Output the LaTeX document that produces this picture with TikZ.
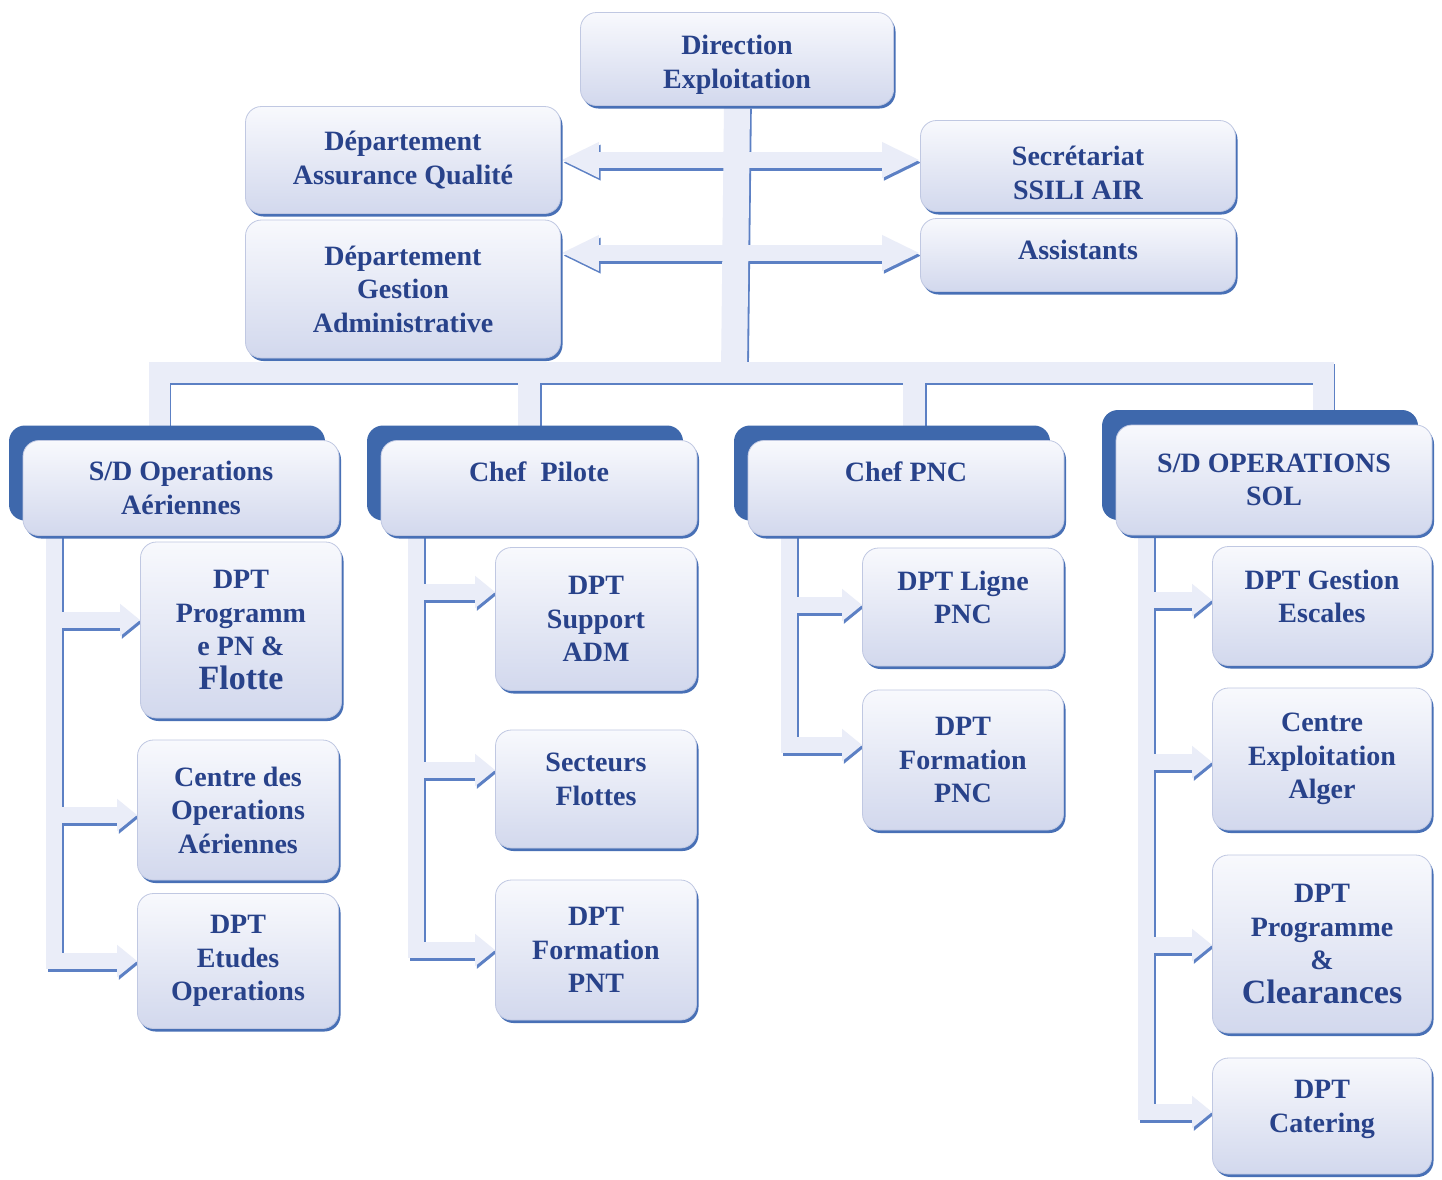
\documentclass[tikz,border=0pt]{standalone}
\usepackage{fontspec}
\setmainfont{Liberation Serif}
\usetikzlibrary{arrows.meta,shadows,backgrounds}

\definecolor{txt}{RGB}{40,66,138}
\definecolor{boxtop}{RGB}{248,249,253}
\definecolor{boxbot}{RGB}{210,216,237}
\definecolor{boxedge}{RGB}{192,200,226}
\definecolor{shad}{RGB}{72,112,182}
\definecolor{plate}{RGB}{62,104,172}
\definecolor{pipefill}{RGB}{234,237,248}
\definecolor{pipeedge}{RGB}{92,128,196}

\newcommand\allpipes[1]{%
  % trunk and side arrows
  \draw[#1, line width=26pt] (dirx.south) -- (trB);
  \draw[#1, line width=16pt, bigtip] (tr1) -- (daq.east);
  \draw[#1, line width=16pt, bigtip] (tr1) -- (sec.west |- tr1);
  \draw[#1, line width=16pt, bigtip] (tr2) -- (dga.east |- tr2);
  \draw[#1, line width=16pt, bigtip] (tr2) -- (ass.west |- tr2);
  % bus and drops
  \draw[#1, line width=21pt] (sdoa.north -| b1) -- (b1) -- (b4) -- (sdsol.north -| b4);
  \draw[#1, line width=22pt] (b2) -- (chp.north -| b2);
  \draw[#1, line width=22pt] (b3) -- (cpnc.north -| b3);
  % column 1
  \draw[#1, line width=16pt, smalltip] (c1) |- (d13.west);
  \draw[#1, line width=16pt, smalltip] (c1 |- 0,620) -- (d11.west |- 0,620);
  \draw[#1, line width=16pt, smalltip] (c1 |- 0,815) -- (d12.west |- 0,815);
  % column 2
  \draw[#1, line width=16pt, smalltip] (c2) |- (d23.west);
  \draw[#1, line width=16pt, smalltip] (c2 |- 0,592) -- (d21.west |- 0,592);
  \draw[#1, line width=16pt, smalltip] (c2 |- 0,770) -- (d22.west |- 0,770);
  % column 3
  \draw[#1, line width=16pt, smalltip] (c3) |- (d32.west |- 0,745);
  \draw[#1, line width=16pt, smalltip] (c3 |- 0,605) -- (d31.west |- 0,605);
  % column 4
  \draw[#1, line width=16pt, smalltip] (c4) |- (d44.west |- 0,1112);
  \draw[#1, line width=16pt, smalltip] (c4 |- 0,600) -- (d41.west |- 0,600);
  \draw[#1, line width=16pt, smalltip] (c4 |- 0,762) -- (d42.west |- 0,762);
  \draw[#1, line width=16pt, smalltip] (c4 |- 0,945) -- (d43.west |- 0,945);
}

\begin{document}
\begin{tikzpicture}[x=1pt,y=-1pt,
  box/.style={rounded corners=16pt, top color=boxtop, bottom color=boxbot,
    draw=boxedge, line width=0.8pt,
    drop shadow={shadow xshift=2pt, shadow yshift=-3pt, fill=shad, opacity=1},
    text=txt, font=\fontsize{28}{33.5}\selectfont\bfseries, align=center, inner sep=0pt},
  lvtwo/.style={box, general shadow={fill=plate, shadow xshift=-14pt, shadow yshift=15pt}},
  pS/.style={draw=pipeedge, transform canvas={shift={(1.8pt,-2.6pt)}}},
  pF/.style={draw=pipefill},
  bigtip/.style={-{Triangle[length=38pt,width=33pt]}},
  smalltip/.style={-{Triangle[length=20pt,width=31pt]}}
]
\useasboundingbox (0,0) rectangle (1442,1179);

% top level
\node[box, minimum width=313pt, minimum height=93pt] (dirx) at (737,59) {\rule{0pt}{31pt}Direction\\Exploitation};
\node[box, minimum width=315pt, minimum height=107pt] (daq) at (403,160) {Département\\Assurance Qualité};
\node[box, minimum width=315pt, minimum height=138pt] (dga) at (403,289) {Département\\Gestion\\Administrative};
\node[box, minimum width=315pt, minimum height=91pt] (sec) at (1078,166) {\rule{0pt}{33pt}Secrétariat\\SSILI AIR};
\node[box, minimum width=315pt, minimum height=73pt] (ass) at (1078,255) {Assistants\\[-23pt]\mbox{}};

% level 2
\node[lvtwo, minimum width=316pt, minimum height=95pt] (sdoa) at (181,488) {S/D Operations\\Aériennes};
\node[lvtwo, minimum width=316pt, minimum height=95pt] (chp) at (539,488) {Chef\ \ Pilote\\\mbox{}};
\node[lvtwo, minimum width=316pt, minimum height=95pt] (cpnc) at (906,488) {Chef PNC\\\mbox{}};
\node[lvtwo, minimum width=316pt, minimum height=110pt] (sdsol) at (1274,480) {S/D OPERATIONS\\SOL};

% column 1
\node[box, minimum width=201pt, minimum height=176pt] (d11) at (241,630) {DPT\\Programm\\e PN \&\\{\fontsize{34}{33.5}\selectfont Flotte}};
\node[box, minimum width=201pt, minimum height=140pt] (d12) at (238,810) {Centre des\\Operations\\Aériennes};
\node[box, minimum width=201pt, minimum height=135pt] (d13) at (238,961) {DPT\\Etudes\\Operations};
% column 2
\node[box, minimum width=201pt, minimum height=143pt] (d21) at (596,619) {DPT\\Support\\ADM};
\node[box, minimum width=201pt, minimum height=118pt] (d22) at (596,789) {Secteurs\\Flottes\\[-14pt]\mbox{}};
\node[box, minimum width=201pt, minimum height=140pt] (d23) at (596,950) {DPT\\Formation\\PNT};
% column 3
\node[box, minimum width=201pt, minimum height=118pt] (d31) at (963,607) {DPT Ligne\\PNC\\[-14pt]\mbox{}};
\node[box, minimum width=201pt, minimum height=140pt] (d32) at (963,760) {DPT\\Formation\\PNC};
% column 4
\node[box, minimum width=219pt, minimum height=119pt] (d41) at (1322,606) {DPT Gestion\\Escales\\[-14pt]\mbox{}};
\node[box, minimum width=219pt, minimum height=142pt] (d42) at (1322,759) {Centre\\Exploitation\\Alger};
\node[box, minimum width=219pt, minimum height=178pt] (d43) at (1322,944) {DPT\\Programme\\\&\\{\fontsize{34}{33.5}\selectfont Clearances}};
\node[box, minimum width=219pt, minimum height=116pt] (d44) at (1322,1116) {DPT\\Catering\\[-14pt]\mbox{}};

% connector points
\coordinate (trB) at (734,372);
\coordinate (tr1) at (734,160);
\coordinate (tr2) at (734,253);
\coordinate (b1) at (159,372);
\coordinate (b2) at (529,372);
\coordinate (b3) at (914,372);
\coordinate (b4) at (1323,372);
\coordinate (c1) at (54,510);
\coordinate (c2) at (416,510);
\coordinate (c3) at (789,510);
\coordinate (c4) at (1146,510);

\begin{scope}[on background layer]
  \fill[white] (0,0) rectangle (1442,1179);
  \allpipes{pS}
  \allpipes{pF}
\end{scope}
\end{tikzpicture}
\end{document}
